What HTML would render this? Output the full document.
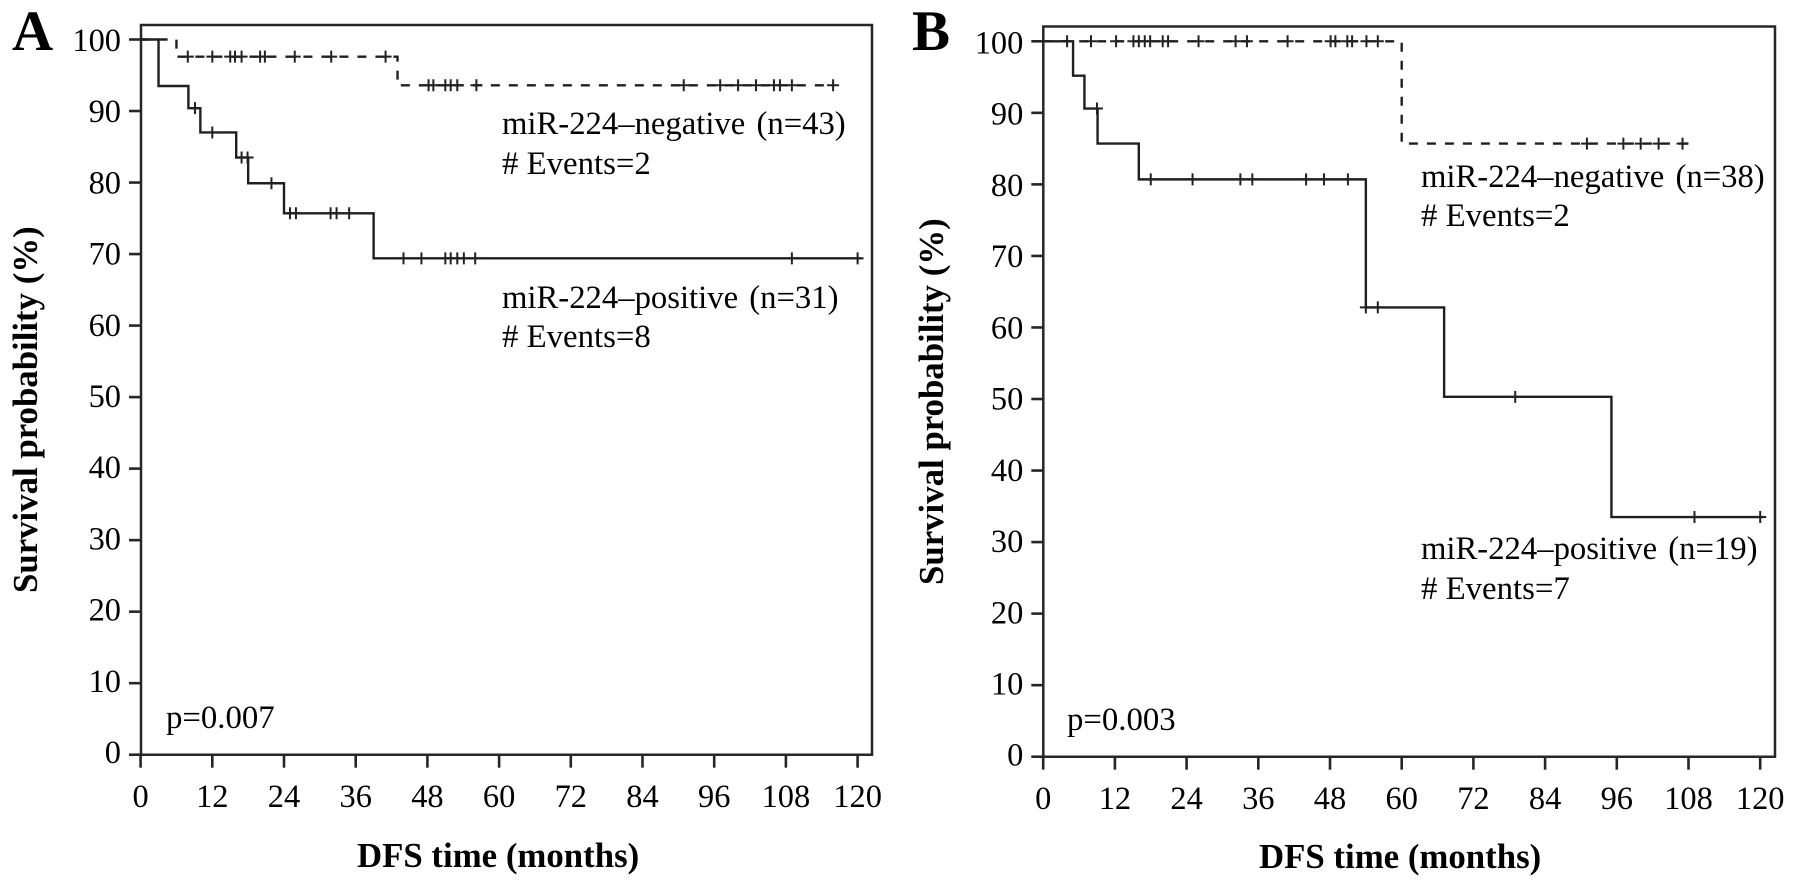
<!DOCTYPE html>
<html lang="en">
<head>
<meta charset="utf-8">
<title>DFS survival curves</title>
<style>
html,body{margin:0;padding:0;background:#fff;width:1795px;height:888px;overflow:hidden}
svg{display:block;filter:blur(0.35px)}
text{font-family:"Liberation Serif",serif;fill:#000}
.lab{font-size:32.7px;word-spacing:3px}
.ev{font-size:32.8px}
.tick{font-size:32.4px}
.title{font-size:34.8px;font-weight:bold}
.letter{font-size:57px;font-weight:bold}
</style>
</head>
<body>
<svg id="figure" xmlns="http://www.w3.org/2000/svg" width="1795" height="888" viewBox="0 0 1795 888">
  <rect x="0" y="0" width="1795" height="888" fill="#fff"/>
  <g id="panelA"></g>
  <g id="panelB"></g>

  <text class="letter" x="12" y="50">A</text>
  <text class="title" transform="translate(37,593) rotate(-90)">Survival probability (%)</text>
  <text class="title" x="357" y="867">DFS time (months)</text>
  <text class="lab" x="502" y="134">miR-224–negative (n=43)</text>
  <text class="ev" x="502" y="174"># Events=2</text>
  <text class="lab" x="502" y="308">miR-224–positive (n=31)</text>
  <text class="ev" x="502" y="347"># Events=8</text>
  <text class="ev" x="166" y="728">p=0.007</text>

  <text class="letter" x="912" y="50">B</text>
  <text class="title" transform="translate(943,585) rotate(-90)">Survival probability (%)</text>
  <text class="title" x="1259" y="868">DFS time (months)</text>
  <text class="lab" x="1421" y="187">miR-224–negative (n=38)</text>
  <text class="ev" x="1421" y="226"># Events=2</text>
  <text class="lab" x="1421" y="559">miR-224–positive (n=19)</text>
  <text class="ev" x="1421" y="599"># Events=7</text>
  <text class="ev" x="1067" y="730">p=0.003</text>
</svg>
<script>
const yTicks = [0, 10, 20, 30, 40, 50, 60, 70, 80, 90, 100];
const xTicks = [0, 12, 24, 36, 48, 60, 72, 84, 96, 108, 120];

const aNegTimes = [0, 6, 43];
const aNegSurv = [100, 97.6, 93.6];
const aNegEnd = 116;
const aNegCensor = [7.9, 12, 15, 15.8, 16.9, 20, 20.8, 25.8, 31.9, 41, 48.2, 49, 51, 51.9, 53, 56.2, 90.9, 97, 100, 103, 106, 107, 109, 115.9];

const aPosTimes = [0, 3, 8, 10, 16, 18, 24, 39];
const aPosSurv = [100, 93.5, 90.4, 87, 83.5, 79.9, 75.7, 69.4];
const aPosEnd = 120.6;
const aPosCensor = [9.1, 12, 16.9, 17.9, 21.9, 25, 26, 31.8, 32.8, 34.9, 44, 47, 51, 51.9, 53, 54.1, 56, 109, 120];

const bNegTimes = [0, 60];
const bNegSurv = [100, 85.7];
const bNegEnd = 108;
const bNegCensor = [4, 8, 12.2, 15.1, 16, 17, 17.9, 20, 20.9, 26, 32.2, 34.1, 40.9, 48.1, 48.9, 50.9, 51.7, 54.1, 56, 91, 97.1, 100, 103, 107];

const bPosTimes = [0, 5, 6.9, 9.1, 16, 54, 67.1, 95.1];
const bPosSurv = [100, 95.2, 90.6, 85.7, 80.7, 62.8, 50.3, 33.5];
const bPosEnd = 120.6;
const bPosCensor = [9, 18, 25, 33, 35, 44, 47, 51, 54, 56, 79, 109, 120];

const NS = 'http://www.w3.org/2000/svg';
const INK = '#1f1f1f';

function node(parent, tag) {
  const el = document.createElementNS(NS, tag);
  parent.appendChild(el);
  return el;
}

function survivalAt(times, surv, t) {
  let s = surv[0];
  for (let i = 0; i < times.length; i++) {
    if (t >= times[i]) s = surv[i];
  }
  return s;
}

function stepPath(times, surv, end, xs, ys) {
  let d = 'M' + xs(times[0]) + ' ' + ys(surv[0]);
  for (let i = 1; i < times.length; i++) {
    d += 'H' + xs(times[i]) + 'V' + ys(surv[i]);
  }
  return d + 'H' + xs(end);
}

function drawSeries(g, prefix, times, surv, end, censor, xs, ys, dashed) {
  const line = node(g, 'path');
  
  
  line.setAttribute('d', stepPath(times, surv, end, xs, ys));
  line.setAttribute('fill', 'none');
  line.setAttribute('stroke', INK);
  line.setAttribute('stroke-width', '2.4');
  if (dashed) line.setAttribute('stroke-dasharray', '9 9');
  censor.forEach(function (t) {
    const cx = xs(t);
    const cy = ys(survivalAt(times, surv, t));
    const mark = node(g, 'path');
    
    
    mark.setAttribute('d', 'M' + (cx - 6) + ' ' + cy + 'H' + (cx + 6) + 'M' + cx + ' ' + (cy - 6) + 'V' + (cy + 6));
    mark.setAttribute('fill', 'none');
    mark.setAttribute('stroke', '#222');
    mark.setAttribute('stroke-width', '2');
  });
}

function drawPanel(id, name, left, top, right, bottom, x0, y100, labelShift) {
  const g = document.getElementById(id);
  const xs = function (t) { return x0 + t * 5.975; };
  const ys = function (v) { return bottom - (bottom - y100) * v / 100; };

  const frame = node(g, 'path');
  
  
  frame.setAttribute('d', 'M' + left + ' ' + bottom + 'V' + top + 'H' + right + 'V' + bottom + 'Z');
  frame.setAttribute('fill', 'none');
  frame.setAttribute('stroke', '#262626');
  frame.setAttribute('stroke-width', '2.5');

  yTicks.forEach(function (v) {
    const tick = node(g, 'path');
    
    
    tick.setAttribute('d', 'M' + (left - 12) + ' ' + ys(v) + 'H' + left);
    tick.setAttribute('stroke', '#262626');
    tick.setAttribute('stroke-width', '2.6');
    const label = node(g, 'text');
    
    
    label.setAttribute('class', 'tick');
    label.setAttribute('text-anchor', 'end');
    label.setAttribute('x', left - 20);
    label.setAttribute('y', ys(v) + labelShift + 0.032 * v);
    label.textContent = String(v);
  });

  xTicks.forEach(function (t) {
    const tick = node(g, 'path');
    
    
    tick.setAttribute('d', 'M' + xs(t) + ' ' + bottom + 'V' + (bottom + 13));
    tick.setAttribute('stroke', '#262626');
    tick.setAttribute('stroke-width', '2.6');
    const label = node(g, 'text');
    
    
    label.setAttribute('class', 'tick');
    label.setAttribute('text-anchor', 'middle');
    label.setAttribute('x', xs(t));
    label.setAttribute('y', bottom + 52.5);
    label.textContent = String(t);
  });

  return { g: g, xs: xs, ys: ys };
}

const panelA = drawPanel('panelA', 'panel-a', 141, 25, 872, 754.7, 140.6, 39.5, 8.3);
drawSeries(panelA.g, 'panel-a-positive', aPosTimes, aPosSurv, aPosEnd, aPosCensor, panelA.xs, panelA.ys, false);
drawSeries(panelA.g, 'panel-a-negative', aNegTimes, aNegSurv, aNegEnd, aNegCensor, panelA.xs, panelA.ys, true);

const panelB = drawPanel('panelB', 'panel-b', 1043.3, 26.5, 1775, 756.7, 1043.2, 41.3, 9);
drawSeries(panelB.g, 'panel-b-positive', bPosTimes, bPosSurv, bPosEnd, bPosCensor, panelB.xs, panelB.ys, false);
drawSeries(panelB.g, 'panel-b-negative', bNegTimes, bNegSurv, bNegEnd, bNegCensor, panelB.xs, panelB.ys, true);
</script>
</body>
</html>
